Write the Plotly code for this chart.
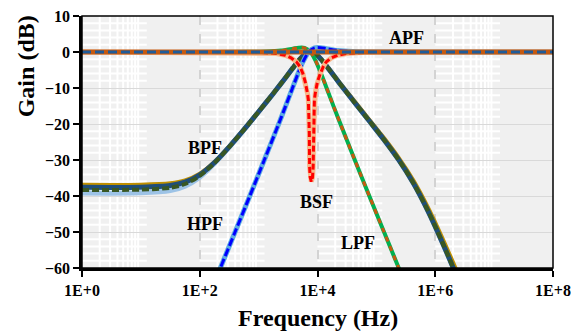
import plotly.graph_objects as go

# ---------------- data (gain in dB vs. log10 of frequency in Hz) ----------------
apf_logf = [0, 2, 4, 6, 8.05]
apf_db = [0, 0, 0, 0, 0]

bpf_logf = [0, 1, 1.5, 1.75, 2, 2.25, 2.5, 2.75, 3, 3.25, 3.38, 3.48, 3.58, 3.68,
            3.78, 3.88, 3.98, 4.08, 4.18, 4.38, 4.63, 4.88, 5.13, 5.38, 5.63,
            5.88, 6.13, 6.38, 6.6]
bpf_db_a = [-39.2, -39.13, -38.49, -37.26, -34.76, -30.98, -26.45, -21.61, -16.6,
            -11.51, -8.78, -6.64, -4.48, -2.40, -0.70, 0, -0.70, -2.40, -4.48,
            -8.79, -14.01, -19.15, -24.37, -29.98, -36.45, -44.25, -53.24,
            -62.86, -71.6]
bpf_db_b = [-36.9, -36.86, -36.47, -35.66, -33.78, -30.54, -26.29, -21.55, -16.5,
            -11.4, -8.7, -6.55, -4.4, -2.3, -0.6, 0.1, -0.6, -2.3, -4.35,
            -8.6, -13.7, -18.8, -23.9, -29.4, -35.7, -43.3, -52.0, -61.4, -70.0]
bpf_db_c = [-37.6, -37.55, -37.10, -36.17, -34.11, -30.69, -26.34, -21.57, -16.6,
            -11.51, -8.78, -6.64, -4.48, -2.40, -0.70, 0, -0.70, -2.40, -4.48,
            -8.79, -14.01, -19.15, -24.37, -29.98, -36.45, -44.25, -53.24,
            -62.86, -71.6]
bpf_db_d = [-38.3, -38.24, -37.71, -36.67, -34.41, -30.83, -26.39, -21.59, -16.6,
            -11.51, -8.78, -6.64, -4.48, -2.40, -0.70, 0, -0.70, -2.40, -4.48,
            -8.79, -14.01, -19.15, -24.37, -29.98, -36.45, -44.25, -53.24,
            -62.86, -71.6]

hpf_logf = [2.15, 2.35, 2.60, 2.85, 3.10, 3.35, 3.45, 3.55, 3.65, 3.75, 3.85,
            3.95, 4.05, 4.15, 4.35, 4.6, 4.85, 5.85, 8.05]
hpf_db = [-68.0, -60.0, -50.0, -40.0, -29.86, -19.6, -15.38, -11.1, -6.8, -2.85,
          0, 1.15, 1.19, 0.93, 0.41, 0.14, 0.04, 0, 0]

lpf_logf = [0, 1.88, 2.88, 3.13, 3.38, 3.58, 3.68, 3.78, 3.88, 3.98, 4.08, 4.18,
            4.28, 4.38, 4.63, 4.88, 5.13, 5.38, 5.58]
lpf_db = [0, 0, 0.04, 0.14, 0.41, 0.93, 1.19, 1.15, 0, -2.85, -6.8, -11.1,
          -15.38, -19.6, -29.86, -40.0, -50.0, -60.0, -68.0]

bsf_logf = [0, 3.0, 3.3, 3.45, 3.55, 3.64, 3.70, 3.75, 3.79, 3.81, 3.83, 3.845,
            3.855, 3.861, 3.866, 3.875, 3.895, 3.915, 3.926, 3.932, 3.938, 3.947,
            3.962, 3.98, 4.0, 4.05, 4.10, 4.15, 4.24, 4.34, 4.5, 4.8, 8]
bsf_db = [0, -0.1, -0.4, -0.9, -1.6, -2.7, -4.0, -5.9, -8.2, -9.6, -11.5, -13.3,
          -17.0, -22.6, -31.9, -34.8, -36.0, -34.8, -31.9, -22.6, -17.0, -13.3,
          -11.5, -9.6, -8.2, -5.9, -4.0, -2.7, -1.6, -0.9, -0.4, -0.1, 0]

x_tick_exp = [0, 2, 4, 6, 8]
x_tick_text = ["1E+0", "1E+2", "1E+4", "1E+6", "1E+8"]

labels = [("APF", 5.51, 3.9), ("BPF", 2.09, -26.7), ("HPF", 2.09, -47.8),
          ("BSF", 3.98, -41.7), ("LPF", 4.68, -53.0)]

FONT = "Liberation Serif"


def hz(logs):
    return [10 ** v for v in logs]


fig = go.Figure()


def add(logf, db, color, width, dash="solid", shape="spline"):
    fig.add_trace(go.Scatter(
        x=hz(logf), y=db, mode="lines",
        line=dict(color=color, width=width, dash=dash, shape=shape,
                  smoothing=0.8 if shape == "spline" else None),
        hoverinfo="skip", showlegend=False))


# band-pass family
add(bpf_logf, bpf_db_a, "#9DC3E6", 5)
add(bpf_logf, bpf_db_b, "#BF9000", 4)
add(bpf_logf, bpf_db_c, "#1F4E79", 5)
add(bpf_logf, bpf_db_d, "#385723", 4, dash="7px,3px")
# low-pass
add(lpf_logf, lpf_db, "#00B050", 4)
add(lpf_logf, lpf_db, "#C55A11", 3, dash="5px,5px")
# high-pass
add(hpf_logf, hpf_db, "#5DADE2", 5)
add(hpf_logf, hpf_db, "#0000FF", 3, dash="8px,3px")
# band-stop
add(bsf_logf, bsf_db, "#F8B88B", 5, shape="linear")
add(bsf_logf, bsf_db, "#FF0000", 3, dash="6px,3px", shape="linear")
# all-pass
add(apf_logf, apf_db, "#C55A11", 5, shape="linear")
add(apf_logf, apf_db, "#1F5C9A", 3, dash="9px,4px", shape="linear")

# light minor grid inside alternate decades
shapes = []
for d in (0, 2, 4, 6):
    for k in range(2, 10):
        shapes.append(dict(type="line", xref="x", yref="y", layer="below",
                           x0=k * 10 ** d, x1=k * 10 ** d, y0=-60, y1=10,
                           line=dict(color="white", width=2)))
    for yv in range(-58, 10, 2):
        if yv % 10 == 0:
            continue
        shapes.append(dict(type="line", xref="x", yref="y", layer="below",
                           x0=10 ** d, x1=10 ** (d + 1.1), y0=yv, y1=yv,
                           line=dict(color="white", width=2)))
# thin frame on top/right
shapes.append(dict(type="rect", xref="paper", yref="paper", x0=0, x1=1, y0=0, y1=1,
                   line=dict(color="black", width=1.5), layer="above"))

annotations = [dict(x=lx, y=ly, xref="x", yref="y", text=f"<b>{t}</b>",
                    showarrow=False, font=dict(family=FONT, size=18, color="black"))
               for t, lx, ly in labels]
annotations.append(dict(x=0.5, y=-0.198, xref="paper", yref="paper",
                        text="<b>Frequency (Hz)</b>", showarrow=False,
                        yanchor="middle",
                        font=dict(family=FONT, size=24, color="black")))
annotations.append(dict(x=-0.117, y=0.80, xref="paper", yref="paper",
                        text="<b>Gain (dB)</b>", showarrow=False, textangle=-90,
                        xanchor="center", yanchor="middle",
                        font=dict(family=FONT, size=24, color="black")))

fig.update_layout(
    width=571, height=336,
    margin=dict(l=82, r=18, t=16, b=68, autoexpand=False),
    paper_bgcolor="white", plot_bgcolor="#F0F0F0",
    shapes=shapes, annotations=annotations, showlegend=False,
    xaxis=dict(type="log", range=[0, 8], automargin=False,
               tickvals=[10 ** e for e in x_tick_exp], ticktext=x_tick_text,
               showgrid=True, gridcolor="#D3D3D3", griddash="dash", gridwidth=1.5,
               showline=True, linecolor="black", linewidth=2.5,
               ticks="outside", ticklen=6, tickwidth=2, tickcolor="black",
               tickfont=dict(family=FONT, size=16, color="black", weight="bold"),
               zeroline=False),
    yaxis=dict(range=[-60, 10], dtick=10, tick0=0, automargin=False,
               showgrid=True, gridcolor="#D9D9D9", gridwidth=1.2,
               showline=True, linecolor="black", linewidth=2.5,
               ticks="outside", ticklen=6, tickwidth=2, tickcolor="black",
               tickfont=dict(family=FONT, size=16, color="black", weight="bold"),
               zeroline=False),
)

fig.write_html("out.html")
